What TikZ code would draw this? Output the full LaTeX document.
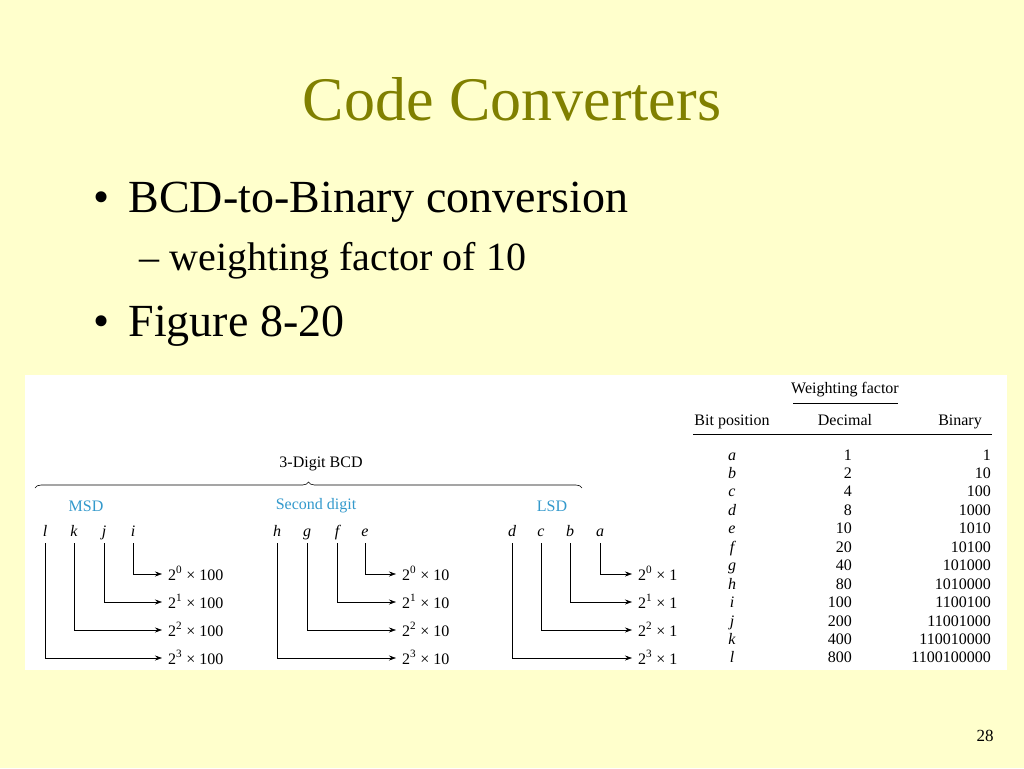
\documentclass[tikz,border=0pt]{standalone}
\usepackage{fontspec}
\setmainfont{Liberation Serif}
\usetikzlibrary{arrows.meta,decorations.pathreplacing}
\definecolor{bg}{HTML}{FFFFCC}
\definecolor{olive}{HTML}{808000}
\definecolor{cyanlbl}{HTML}{3399CC}
\newcommand{\fs}[1]{\fontsize{#1}{#1}\selectfont}
\begin{document}
\begin{tikzpicture}[x=1pt,y=-1pt,
  fig/.style={font=\fs{16}, inner sep=0pt},
  lbl/.style={font=\fs{16}\itshape, inner sep=0pt, anchor=base},
  grp/.style={font=\fs{16}, text=cyanlbl, inner sep=0pt},
  conn/.style={-{Stealth[length=7pt,width=5pt]}, line width=0.6pt},
  cell/.style={font=\fs{16}, inner sep=0pt}]
\fill[bg] (0,0) rectangle (1024,768);
\useasboundingbox (0,0) rectangle (1024,768);
\node[text=olive,font=\fs{62},anchor=base] (title) at (512,120) {Code Converters};
\node[anchor=base,font=\fs{46}] (bul1) at (102,212) {\textbullet};
\node[anchor=base west,font=\fs{46}] (b1) at (125,212) {BCD-to-Binary conversion};
\node[anchor=base west,font=\fs{40}] (b2) at (136,270) {–\ weighting factor of 10};
\node[anchor=base,font=\fs{46}] (bul3) at (102,336) {\textbullet};
\node[anchor=base west,font=\fs{46}] (b3) at (125,336) {Figure 8-20};
\node[font=\fs{17}] (pg) at (985,736) {28};
\fill[white] (25,375) rectangle (1007,670);
\coordinate (brL) at (35,488);
\coordinate (brR) at (582,488);
\draw[decorate,decoration={brace,amplitude=6pt},line width=0.6pt] (brL) -- (brR);
\node[fig] (bcd) at (321,464) {3-Digit BCD};
\node[grp] (msd) at (86,506) {MSD};
\node[grp] (sec) at (316,506) {Second digit};
\node[grp] (lsd) at (552,506) {LSD};
\foreach \letters/\xs/\ax/\mul in {
  {l,k,j,i}/{45,74,104,133}/162/100,
  {h,g,f,e}/{277,307,337,365}/396/10,
  {d,c,b,a}/{512,541,570,600}/632/1}{
  \foreach \L [count=\c] in \letters {
    \pgfmathsetmacro{\xx}{{\xs}[\c-1]}
    \pgfmathtruncatemacro{\e}{4-\c}
    \pgfmathsetmacro{\yy}{574+28*(4-\c)}
    \node[lbl] (n\L) at (\xx,536) {\L};
    \node[fig,anchor=base west] (t\L) at (\ax+6,\yy+6) {2\textsuperscript{\e} × \mul};
    \coordinate (c\L) at (\xx,\yy);
    \coordinate (e\L) at (\ax,\yy);
    \draw[conn] (\xx,543) -- (c\L) -- (e\L);
  }
}
\node[cell] (wf) at (845,390) {Weighting factor};
\draw[line width=0.6pt] (793,403) -- (898,403);
\node[cell,anchor=base] (hb) at (732,425) {Bit position};
\node[cell,anchor=base] (hd) at (845,425) {Decimal};
\node[cell,anchor=base east] (hbin) at (982,425) {Binary};
\draw[line width=0.6pt] (693,434) -- (992,434);
\foreach \L/\d/\b [count=\r from 0] in {a/1/1,b/2/10,c/4/100,d/8/1000,e/10/1010,f/20/10100,g/40/101000,h/80/1010000,i/100/1100100,j/200/11001000,k/400/110010000,l/800/1100100000}{
  \pgfmathsetmacro{\yy}{460+18.45*\r}
  \node[lbl] (r\L) at (732,\yy) {\L};
  \node[cell,anchor=base east] (d\L) at (852,\yy) {\d};
  \node[cell,anchor=base east] (bb\L) at (991,\yy) {\b};
}
\end{tikzpicture}
\end{document}
